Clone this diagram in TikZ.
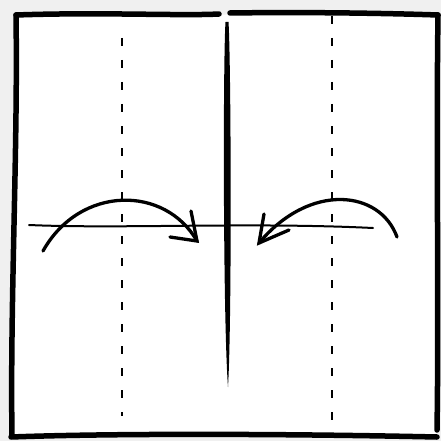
\documentclass[tikz,border=0pt]{standalone}
\usetikzlibrary{arrows.meta}

\begin{document}
\begin{tikzpicture}[
  x=1pt, y=-1pt,
  edge/.style={line width=5.5pt, line cap=round},
  crease/.style={line width=1.7pt, dash pattern=on 8pt off 14pt},
  foldline/.style={line width=2pt, line cap=round},
  swing/.style={line width=3.3pt, line cap=round}
]
  % Background and sheet
  \fill[gray!12] (0,0) rectangle (441,441);
  \useasboundingbox (0,0) rectangle (441,441);
  \fill[white] (15,15) -- (438,14) -- (437,436) -- (11,437) -- cycle;

  % Corners
  \coordinate (tl) at (16,15);
  \coordinate (tm) at (219,14);
  \coordinate (tn) at (230,13);
  \coordinate (tr) at (438,15);
  \coordinate (br) at (437,430);
  \coordinate (bl) at (11,437);
  \coordinate (bb) at (437,437);

  % Sheet outline
  \draw[edge] (tl) .. controls (100,12) and (180,16) .. (tm);
  \draw[edge] (tn) .. controls (300,12) and (380,13) .. (tr);
  \draw[edge] (tl) .. controls (18,150) and (10,300) .. (12,436);
  \draw[edge] (tr) .. controls (436,150) and (439,300) .. (br);
  \draw[edge] (bl) .. controls (120,433) and (300,434) .. (bb);

  % Centre line
  \fill (225.5,22) -- (228.5,22) .. controls (231,60) and (232,320) .. (228,387)
        .. controls (223,320) and (223,60) .. (225.5,22) -- cycle;

  % Creases
  \draw[crease] (122,38) -- (122,416);
  \draw[crease] (332,16) -- (332,434);

  % Fold line
  \coordinate (fl) at (29,225);
  \coordinate (fr) at (373,228);
  \draw[foldline] (fl) .. controls (120,229) and (250,222) .. (fr);

  % Left flap arrow
  \coordinate (la) at (43,251);
  \coordinate (lb) at (197,241);
  \draw[swing] (la) .. controls (80,185) and (165,185) .. (lb);
  \draw[swing] (191,211) -- (lb) -- (170,237);

  % Right flap arrow
  \coordinate (ra) at (397,237);
  \coordinate (rb) at (259,243);
  \draw[swing] (ra) .. controls (380,190) and (310,182) .. (rb);
  \draw[swing] (264,214) -- (rb) -- (289,230);
\end{tikzpicture}
\end{document}
